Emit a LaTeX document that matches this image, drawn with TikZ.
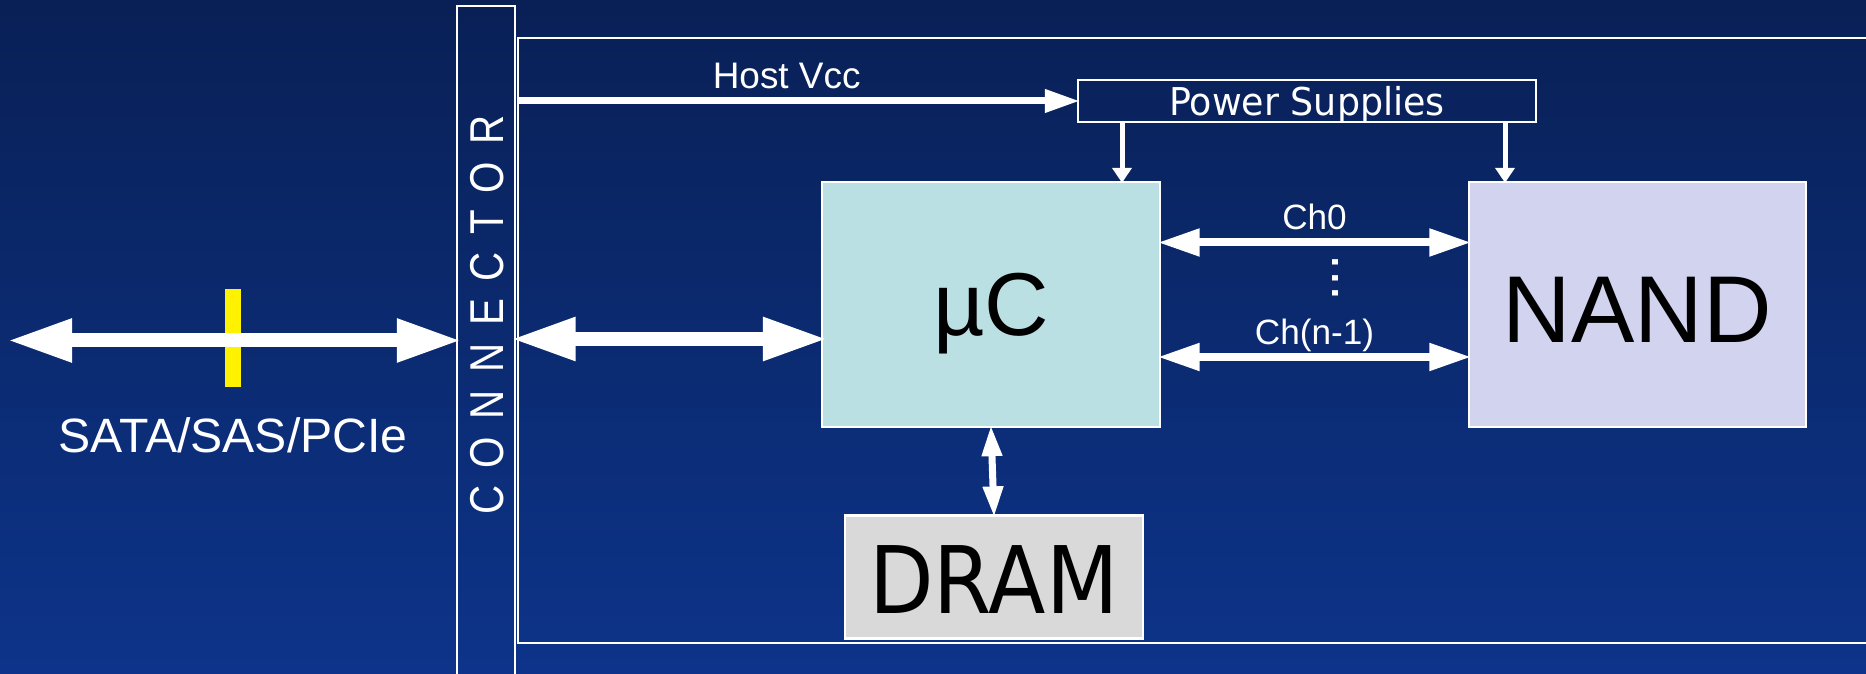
\documentclass[tikz,border=0pt]{standalone}
\usepackage{fontspec}
\setmainfont{Liberation Sans}
\newfontfamily\boxfont[FakeStretch=0.9]{DejaVu Sans}
\newfontfamily\psfont[FakeStretch=0.95]{DejaVu Sans}
\newfontfamily\connfont[FakeStretch=0.85,LetterSpace=37]{Liberation Sans}
\usepackage{tikz}
\usetikzlibrary{arrows.meta,positioning}
\definecolor{bgtop}{RGB}{9,32,86}
\definecolor{bgbot}{RGB}{13,52,138}
\definecolor{ucfill}{RGB}{186,224,227}
\definecolor{nandfill}{RGB}{209,211,239}
\definecolor{dramfill}{RGB}{217,217,217}

\begin{document}
\begin{tikzpicture}[x=0.01cm,y=-0.01cm,
  blk/.style={draw=white,line width=0.6pt,inner sep=0pt,text=black},
  lbl/.style={text=white,inner sep=0pt,midway,anchor=base,yshift=0.125cm},
  bus/.style={white,line width=0.14cm,shorten <=-0.06cm,shorten >=-0.06cm,arrows={Triangle[length=0.65cm,width=0.40cm]-Triangle[length=0.65cm,width=0.40cm]}},
  chan/.style={white,line width=0.08cm,shorten <=-0.035cm,shorten >=-0.035cm,arrows={Triangle[length=0.42cm,width=0.26cm]-Triangle[length=0.42cm,width=0.26cm]}},
  vcc/.style={white,line width=0.07cm,shorten >=-0.03cm,arrows={-Triangle[length=0.35cm,width=0.22cm]}},
  pwr/.style={white,line width=0.05cm,shorten >=-0.02cm,arrows={-Triangle[length=0.15cm,width=0.19cm]}},
  mem/.style={white,line width=0.07cm,shorten <=-0.03cm,shorten >=-0.03cm,arrows={Triangle[length=0.31cm,width=0.19cm]-Triangle[length=0.31cm,width=0.19cm]}}]
\useasboundingbox (0,0) rectangle (1866,674);
\fill[top color=bgtop,bottom color=bgbot] (0,0) rectangle (1866,674);

% drive outline and connector strip (both run off the page)
\node[draw=white,line width=0.6pt,minimum width=13.62cm,minimum height=6.05cm,inner sep=0pt] (board) at (1199,340.5) {};
\node[draw=white,line width=0.6pt,minimum width=0.58cm,minimum height=6.94cm,inner sep=0pt] (conn) at (486,353) {};
\node[rotate=90,text=white,inner sep=0pt,font=\connfont\fontsize{13.5}{16}\selectfont] (conntxt) at (487,315) {CONNECTOR};

% blocks
\node[blk,fill=ucfill,minimum width=3.38cm,minimum height=2.45cm,text height=0.62cm,text depth=0pt,font=\fontsize{25.4}{30}\selectfont] (uc) at (991,304.5) {µC};
\node[blk,fill=nandfill,minimum width=3.37cm,minimum height=2.45cm,text height=0.76cm,text depth=0pt,font=\fontsize{27}{30}\selectfont] (nand) at (1637.5,304.5) {NAND};
\node[blk,fill=dramfill,minimum width=2.97cm,minimum height=1.23cm,text height=0.72cm,text depth=0pt,font=\boxfont\fontsize{26.5}{30}\selectfont] (dram) at (994,577) {DRAM};
\node[blk,text=white,minimum width=4.58cm,minimum height=0.42cm,text depth=0pt,font=\psfont\fontsize{10.9}{13}\selectfont] (ps) at (1307,101) {Power Supplies};

% host side
\node[fill=yellow,minimum width=0.16cm,minimum height=0.98cm,inner sep=0pt] (lane) at (233,338) {};
\node[below=0.29cm of lane,text=white,inner sep=0pt,font=\fontsize{13.7}{16}\selectfont] (iface) {SATA/SAS/PCIe};
\coordinate (host) at (13,340.5);
\draw[bus] (host) -- (host -| conn.west);

% links
\coordinate (link) at (822,339);
\coordinate (ch0) at (1300,242.5);
\coordinate (chn) at (1300,357);
\coordinate (pwa) at (1122,0);
\coordinate (pwb) at (1505,0);
\draw[bus] (link -| board.west) -- (link);
\draw[vcc] (board.west |- ps.west) -- (ps.west) node[lbl,xshift=-0.1cm,font=\fontsize{10.5}{13}\selectfont]{Host Vcc};
\draw[pwr] (ps.south -| pwa) -- (uc.north -| pwa);
\draw[pwr] (ps.south -| pwb) -- (nand.north -| pwb);
\draw[chan] (uc.east |- ch0) -- (nand.west |- ch0) node[lbl,font=\fontsize{10}{12}\selectfont]{Ch0};
\draw[chan] (uc.east |- chn) -- (nand.west |- chn) node[lbl,font=\fontsize{10}{12}\selectfont]{Ch(n-1)};
\node[rotate=-90,text=white,inner sep=0pt,font=\fontsize{16}{20}\selectfont] (dots) at (1335,278) {...};
\draw[mem] (uc.south) -- (dram.north);
\end{tikzpicture}
\end{document}
